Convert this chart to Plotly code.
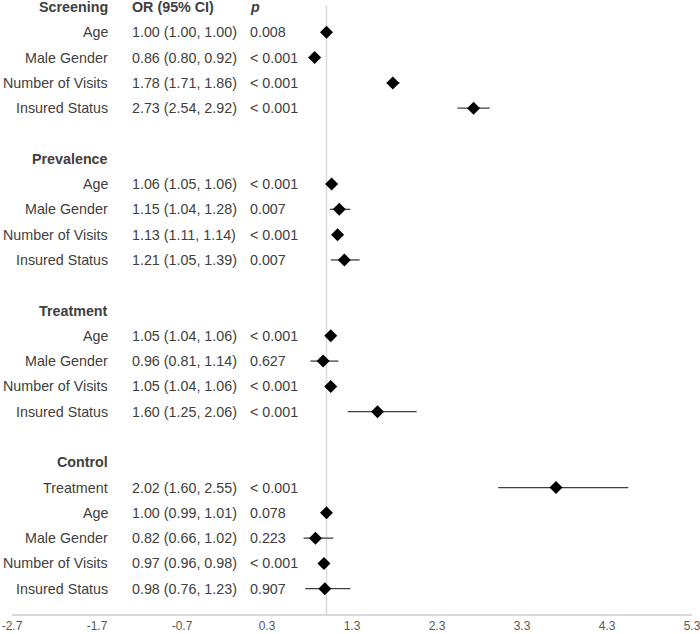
import plotly.graph_objects as go

# ---- data ----
group_names = ["Screening", "Prevalence", "Treatment", "Control"]
group_sizes = [4, 4, 4, 5]
row_labels = ["Age", "Male Gender", "Number of Visits", "Insured Status",
              "Age", "Male Gender", "Number of Visits", "Insured Status",
              "Age", "Male Gender", "Number of Visits", "Insured Status",
              "Treatment", "Age", "Male Gender", "Number of Visits", "Insured Status"]
or_text = ["1.00 (1.00, 1.00)", "0.86 (0.80, 0.92)", "1.78 (1.71, 1.86)", "2.73 (2.54, 2.92)",
           "1.06 (1.05, 1.06)", "1.15 (1.04, 1.28)", "1.13 (1.11, 1.14)", "1.21 (1.05, 1.39)",
           "1.05 (1.04, 1.06)", "0.96 (0.81, 1.14)", "1.05 (1.04, 1.06)", "1.60 (1.25, 2.06)",
           "2.02 (1.60, 2.55)", "1.00 (0.99, 1.01)", "0.82 (0.66, 1.02)", "0.97 (0.96, 0.98)", "0.98 (0.76, 1.23)"]
p_text = ["0.008", "< 0.001", "< 0.001", "< 0.001",
          "< 0.001", "0.007", "< 0.001", "0.007",
          "< 0.001", "0.627", "< 0.001", "< 0.001",
          "< 0.001", "0.078", "0.223", "< 0.001", "0.907"]
# plotted estimates
est = [1.00, 0.86, 1.78, 2.73,
       1.06, 1.15, 1.13, 1.21,
       1.05, 0.96, 1.05, 1.60,
       3.70, 1.00, 0.87, 0.97, 0.98]
ci_lo = [1.00, 0.80, 1.71, 2.54,
         1.05, 1.04, 1.11, 1.05,
         1.04, 0.81, 1.04, 1.25,
         3.02, 0.99, 0.73, 0.96, 0.75]
ci_hi = [1.00, 0.92, 1.86, 2.92,
         1.06, 1.28, 1.14, 1.39,
         1.06, 1.14, 1.06, 2.06,
         4.55, 1.01, 1.08, 0.98, 1.28]
tick_vals = [-2.7, -1.7, -0.7, 0.3, 1.3, 2.3, 3.3, 4.3, 5.3]
tick_text = ["-2.7", "-1.7", "-0.7", "0.3", "1.3", "2.3", "3.3", "4.3", "5.3"]
ref_value = 1.0

# ---- layout of rows ----
header_y = []
row_y = []
cur = 0
for size in group_sizes:
    header_y.append(cur)
    for k in range(size):
        row_y.append(cur + 1 + k)
    cur += size + 2
y_max = row_y[-1] + 1
y_top = -0.08

FONT = "Liberation Sans, Arial, sans-serif"
TXT = "#404040"
FS = 14.3
X_LABEL = -1.553
X_OR = -1.31
X_P = 0.082

fig = go.Figure()
fig.add_trace(go.Scatter(
    x=est, y=row_y, mode="markers",
    marker=dict(symbol="diamond", size=10, color="black"),
    error_x=dict(type="data", symmetric=False,
                 array=[h - e for h, e in zip(ci_hi, est)],
                 arrayminus=[e - l for e, l in zip(est, ci_lo)],
                 color="#404040", thickness=1.3, width=0),
    showlegend=False, hoverinfo="skip", cliponaxis=False))

ann = []
for name, yy in zip(group_names, header_y):
    ann.append(dict(x=X_LABEL, y=yy, xref="x", yref="y", text="<b>%s</b>" % name,
                    xanchor="right", yanchor="middle", showarrow=False,
                    font=dict(family=FONT, size=FS, color=TXT)))
ann.append(dict(x=X_OR, y=header_y[0], xref="x", yref="y", text="<b>OR (95% CI)</b>",
                xanchor="left", yanchor="middle", showarrow=False,
                font=dict(family=FONT, size=FS, color=TXT)))
ann.append(dict(x=X_P, y=header_y[0], xref="x", yref="y", text="<b><i>p</i></b>",
                xanchor="left", yanchor="middle", showarrow=False,
                font=dict(family=FONT, size=FS, color=TXT)))
for lab, ot, pt, yy in zip(row_labels, or_text, p_text, row_y):
    ann.append(dict(x=X_LABEL, y=yy, xref="x", yref="y", text=lab,
                    xanchor="right", yanchor="middle", showarrow=False,
                    font=dict(family=FONT, size=FS, color=TXT)))
    ann.append(dict(x=X_OR, y=yy, xref="x", yref="y", text=ot,
                    xanchor="left", yanchor="middle", showarrow=False,
                    font=dict(family=FONT, size=FS, color=TXT)))
    ann.append(dict(x=X_P, y=yy, xref="x", yref="y", text=pt,
                    xanchor="left", yanchor="middle", showarrow=False,
                    font=dict(family=FONT, size=FS, color=TXT)))

fig.update_layout(
    width=700, height=634,
    margin=dict(l=12, r=8, t=5, b=20, autoexpand=False),
    paper_bgcolor="white", plot_bgcolor="white",
    annotations=ann,
    shapes=[dict(type="line", xref="x", yref="y", x0=ref_value, x1=ref_value,
                 y0=y_top, y1=y_max, line=dict(color="#d9d9d9", width=1.5), layer="below")],
    xaxis=dict(range=[tick_vals[0], tick_vals[-1]], tickvals=tick_vals, ticktext=tick_text,
               showgrid=False, zeroline=False, showline=True, linecolor="#d9d9d9",
               linewidth=1.5, ticks="", automargin=False, ticklabeloverflow="allow",
               tickfont=dict(family=FONT, size=12, color="#595959")),
    yaxis=dict(range=[y_max, y_top], visible=False, showgrid=False, zeroline=False,
               automargin=False),
)

fig.write_html("out.html", config={"displayModeBar": False},
               post_script="document.body.style.margin='0';document.body.style.overflow='hidden';")
